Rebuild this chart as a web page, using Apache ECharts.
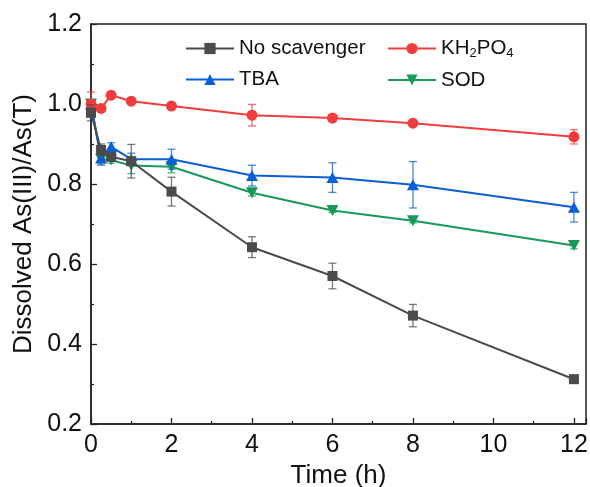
<!DOCTYPE html>
<html>
<head>
<meta charset="utf-8">
<script src="https://cdn.jsdelivr.net/npm/echarts@6/dist/echarts.min.js"></script>
<style>
  html, body { margin: 0; padding: 0; background: #fff; }
  #chart { width: 590px; height: 487px; }
</style>
</head>
<body>
<div id="chart"></div>
<script>
// Sampling times (h)
var times = [0, 0.25, 0.5, 1, 2, 4, 6, 8, 12];

// Dissolved As(III)/As(T) ratio and standard deviations per condition
var noScavenger    = [0.978, 0.885, 0.868, 0.857, 0.781, 0.642, 0.570, 0.471, 0.312];
var noScavengerErr = [0.020, 0.015, 0.010, 0.042, 0.036, 0.026, 0.032, 0.028, 0.010];

var kh2po4    = [1.000, 0.989, 1.022, 1.007, 0.995, 0.972, 0.965, 0.952, 0.918];
var kh2po4Err = [0.030, 0.005, 0.005, 0.005, 0.005, 0.027, 0.008, 0.006, 0.018];

var tba    = [1.000, 0.865, 0.893, 0.862, 0.862, 0.821, 0.816, 0.798, 0.742];
var tbaErr = [0.010, 0.018, 0.010, 0.015, 0.025, 0.026, 0.037, 0.058, 0.037];

var sod    = [1.000, 0.862, 0.860, 0.846, 0.843, 0.778, 0.734, 0.708, 0.646];
var sodErr = [0.010, 0.012, 0.008, 0.020, 0.015, 0.008, 0.005, 0.005, 0.008];

var xTicks = { min: 0, max: 12.3, interval: 2 };
var yTicks = { min: 0.2, max: 1.2, interval: 0.2 };

var FONT = 'Liberation Sans, Arial, sans-serif';

function pairs(ys) {
  return times.map(function (t, i) { return [t, ys[i]]; });
}
function errRows(ys, es) {
  return times.map(function (t, i) { return [t, ys[i], es[i]]; });
}

// Vertical I-beam error bars drawn in data coordinates
function errorBarSeries(name, ys, es, color, z) {
  return {
    name: name + ' SD',
    type: 'custom',
    z: z,
    silent: true,
    data: errRows(ys, es),
    encode: { x: 0, y: 1 },
    renderItem: function (params, api) {
      var x = api.value(0), y = api.value(1), e = api.value(2);
      var top = api.coord([x, y + e]);
      var bot = api.coord([x, y - e]);
      var hw = 4;
      var style = { stroke: color, lineWidth: 1.3, opacity: 0.75 };
      return {
        type: 'group',
        children: [
          { type: 'line', shape: { x1: top[0], y1: top[1], x2: bot[0], y2: bot[1] }, style: style },
          { type: 'line', shape: { x1: top[0] - hw, y1: top[1], x2: top[0] + hw, y2: top[1] }, style: style },
          { type: 'line', shape: { x1: bot[0] - hw, y1: bot[1], x2: bot[0] + hw, y2: bot[1] }, style: style }
        ]
      };
    }
  };
}

function lineSeries(name, ys, color, symbol, size, z) {
  return {
    name: name,
    type: 'line',
    z: z,
    data: pairs(ys),
    symbol: symbol,
    symbolSize: size,
    showSymbol: true,
    lineStyle: { color: color, width: 2 },
    itemStyle: { color: color, borderWidth: 0 },
    emphasis: { disabled: true },
    animation: false
  };
}

var colors = {
  gray: '#4b4b4b',
  red: '#f03c3c',
  blue: '#0a5fd4',
  green: '#17995a'
};

var triDown = 'path://M0,0 L10,0 L5,9 Z';

var legendText = { fontFamily: FONT, fontSize: 20.5, color: '#111' };

var option = {
  animation: false,
  backgroundColor: '#ffffff',
  grid: {
    left: 91, right: 4, top: 24, bottom: 63,
    outerBoundsMode: 'none',
    containLabel: false,
    show: true, borderColor: '#222', borderWidth: 1.5, backgroundColor: 'transparent'
  },
  legend: [
    {
      orient: 'vertical',
      left: 185, top: 38, padding: 0,
      itemWidth: 48, itemHeight: 14, itemGap: 10,
      data: ['No scavenger', 'TBA'],
      textStyle: legendText
    },
    {
      orient: 'vertical',
      left: 387, top: 38, padding: 0,
      itemWidth: 48, itemHeight: 14, itemGap: 10,
      data: ['KH2PO4', 'SOD'],
      formatter: function (n) {
        return n === 'KH2PO4' ? '{a|KH}{s|2}{a|PO}{s|4}' : n;
      },
      textStyle: {
        fontFamily: FONT, fontSize: 20.5, color: '#111',
        rich: {
          a: { fontFamily: FONT, fontSize: 20.5, color: '#111' },
          s: { fontFamily: FONT, fontSize: 13, color: '#111', verticalAlign: 'bottom', padding: [9, 0, 0, 0] }
        }
      }
    }
  ],
  xAxis: {
    type: 'value',
    min: xTicks.min, max: xTicks.max, interval: xTicks.interval,
    name: 'Time (h)',
    nameLocation: 'middle',
    nameGap: 34,
    nameTextStyle: { fontFamily: FONT, fontSize: 26, color: '#111' },
    axisLine: { show: true, onZero: false, lineStyle: { color: '#222', width: 1.5 } },
    axisTick: { show: true, inside: true, length: 6, lineStyle: { color: '#222', width: 1.3 } },
    minorTick: { show: true, splitNumber: 2, length: 3, lineStyle: { color: '#222', width: 1.2 } },
    axisLabel: {
      fontFamily: FONT, fontSize: 25, color: '#111', margin: 9, showMaxLabel: false,
      formatter: function (v) { return (v % 2 === 0) ? String(v) : ''; }
    },
    splitLine: { show: false }
  },
  yAxis: {
    type: 'value',
    min: yTicks.min, max: yTicks.max, interval: yTicks.interval,
    name: 'Dissolved As(III)/As(T)',
    nameLocation: 'middle',
    nameGap: 52,
    nameTextStyle: { fontFamily: FONT, fontSize: 26, color: '#111' },
    axisLine: { show: true, onZero: false, lineStyle: { color: '#222', width: 1.5 } },
    axisTick: { show: true, inside: true, length: 6, lineStyle: { color: '#222', width: 1.3 } },
    minorTick: { show: true, splitNumber: 2, length: 3, lineStyle: { color: '#222', width: 1.2 } },
    axisLabel: {
      fontFamily: FONT, fontSize: 25, color: '#111', margin: 9,
      formatter: function (v) { return v.toFixed(1); }
    },
    splitLine: { show: false }
  },
  series: [
    errorBarSeries('SOD', sod, sodErr, colors.green, 1),
    lineSeries('SOD', sod, colors.green, triDown, [12, 11], 2),
    errorBarSeries('TBA', tba, tbaErr, colors.blue, 3),
    lineSeries('TBA', tba, colors.blue, 'triangle', [12, 11], 4),
    errorBarSeries('KH2PO4', kh2po4, kh2po4Err, colors.red, 5),
    lineSeries('KH2PO4', kh2po4, colors.red, 'circle', 11, 6),
    errorBarSeries('No scavenger', noScavenger, noScavengerErr, colors.gray, 7),
    lineSeries('No scavenger', noScavenger, colors.gray, 'rect', 10, 8)
  ]
};

var chart = echarts.init(document.getElementById('chart'), null, { renderer: 'canvas' });
chart.setOption(option);
</script>
</body>
</html>
